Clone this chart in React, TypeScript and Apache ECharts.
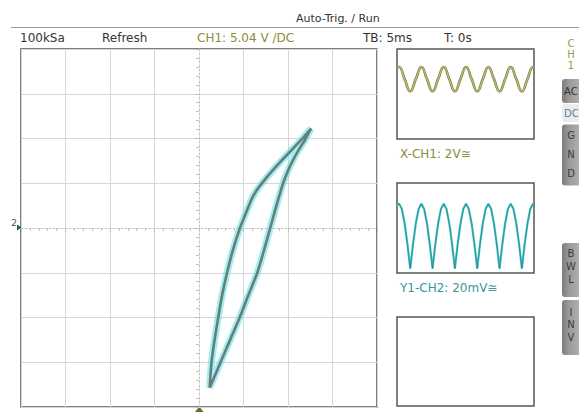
import React, { useEffect, useRef } from "react";
import * as echarts from "echarts";

// ---------- data ----------
// XY (hysteresis) loop, in screen divisions (8 x 8 grid, centre = 0,0)
const loopX = [0.24, 0.28, 0.35, 0.43, 0.52, 0.63, 0.76, 0.92, 1.04, 1.20, 1.30, 1.43, 1.65, 1.86, 2.07, 2.28, 2.41, 2.52, 2.45, 2.37, 2.23, 2.11, 2.00, 1.89, 1.74, 1.60, 1.46, 1.31, 1.11, 0.91, 0.70, 0.48, 0.24];
const loopY = [-3.57, -3.01, -2.50, -2.01, -1.50, -1.00, -0.50, 0.00, 0.30, 0.68, 0.85, 1.02, 1.28, 1.51, 1.73, 1.95, 2.10, 2.22, 2.10, 1.95, 1.73, 1.51, 1.28, 1.00, 0.50, 0.00, -0.50, -1.00, -1.50, -2.01, -2.50, -3.01, -3.57];

// X-CH1 preview trace (percent of panel width / height)
const chXt = [0, 1.5, 5.6, 9.65, 13.7, 17.8, 21.9, 25.95, 30.0, 34.1, 38.2, 42.25, 46.3, 50.4, 54.5, 58.55, 62.6, 66.7, 70.8, 74.85, 78.9, 83.0, 87.1, 91.15, 95.2, 99.3, 100];
const chXv = [79.5, 80, 66.5, 53, 66.5, 80, 66.5, 53, 66.5, 80, 66.5, 53, 66.5, 80, 66.5, 53, 66.5, 80, 66.5, 53, 66.5, 80, 66.5, 53, 66.5, 80, 79.8];

// Y1-CH2 preview trace
const chYt = [0, 1.5, 3.54, 5.58, 7.61, 9.65, 11.69, 13.73, 15.76, 17.8, 19.84, 21.88, 23.91, 25.95, 27.99, 30.03, 32.06, 34.1, 36.14, 38.18, 40.21, 42.25, 44.29, 46.33, 48.36, 50.4, 52.44, 54.48, 56.51, 58.55, 60.59, 62.63, 64.66, 66.7, 68.74, 70.78, 72.81, 74.85, 76.89, 78.93, 80.96, 83.0, 85.04, 87.08, 89.11, 91.15, 93.19, 95.23, 97.26, 99.3, 100];
const chYv = [76, 77, 71, 55, 32, 5, 32, 55, 71, 77, 71, 55, 32, 5, 32, 55, 71, 77, 71, 55, 32, 5, 32, 55, 71, 77, 71, 55, 32, 5, 32, 55, 71, 77, 71, 55, 32, 5, 32, 55, 71, 77, 71, 55, 32, 5, 32, 55, 71, 77, 76.5];

// texts
const headerText = "Auto-Trig. / Run";
const statusTexts = ["100kSa", "Refresh", "CH1: 5.04 V /DC", "TB: 5ms", "T: 0s"];
const xLabel = "X-CH1: 2V≅";
const yLabel = "Y1-CH2: 20mV≅";

const FONT = "'DejaVu Sans', sans-serif";

export default function App() {
  const ref = useRef<HTMLDivElement>(null);

  useEffect(() => {
    if (!ref.current) return;
    const chart = echarts.init(ref.current, undefined, { renderer: "svg" });

    const grid = "#d6d6d6";
    const splitColors = [grid, grid, grid, grid, "rgba(0,0,0,0)", grid, grid, grid, grid];
    const centre = "#c2c2c2";

    const mainAxis = (gridIndex: number) => ({
      gridIndex,
      type: "value",
      min: -4,
      max: 4,
      interval: 1,
      axisLabel: { show: false },
      axisLine: { show: true, onZero: true, lineStyle: { color: centre, width: 1, type: [2, 2] } },
      axisTick: { show: true, length: 4, lineStyle: { color: centre } },
      minorTick: { show: true, splitNumber: 5, length: 3, lineStyle: { color: centre } },
      splitLine: { show: true, lineStyle: { color: splitColors, width: 1 } },
    });

    const panelAxis = (gridIndex: number) => ({
      gridIndex,
      type: "value",
      min: 0,
      max: 100,
      show: false,
    });

    const panelGrid = (top: number, height: number) => ({
      left: 397,
      top,
      width: 137,
      height,
      show: true,
      borderColor: "#555",
      borderWidth: 1.5,
      backgroundColor: "#fff",
    });

    const tabFill = new echarts.graphic.LinearGradient(0, 0, 1, 0, [
      { offset: 0, color: "#7c7c7c" },
      { offset: 0.35, color: "#9a9a9a" },
      { offset: 1, color: "#b4b4b4" },
    ]);

    const letter = (t: string, y: number, fill = "#3c3c3c") => ({
      type: "text",
      style: { text: t, x: 571, y, fill, font: `10px ${FONT}`, textAlign: "center", textVerticalAlign: "middle" },
    });

    const statusX = [20, 102, 197, 363, 444];
    const loopData = loopX.map((x, i) => [x, loopY[i]]);

    const option: any = {
      animation: false,
      backgroundColor: "#fff",
      grid: [
        { left: 21, top: 49, width: 356, height: 358, show: true, borderColor: "#555", borderWidth: 1.5, backgroundColor: "#fff" },
        panelGrid(49, 90),
        panelGrid(183, 90),
        panelGrid(317, 89),
      ],
      xAxis: [mainAxis(0), panelAxis(1), panelAxis(2), panelAxis(3)],
      yAxis: [mainAxis(0), panelAxis(1), panelAxis(2), panelAxis(3)],
      series: [
        {
          type: "line",
          xAxisIndex: 0,
          yAxisIndex: 0,
          data: loopData,
          showSymbol: false,
          symbol: "none",
          smooth: 0.2,
          lineStyle: { color: "#5fe2e6", width: 7, opacity: 0.6 },
          z: 3,
        },
        {
          type: "line",
          xAxisIndex: 0,
          yAxisIndex: 0,
          data: loopData,
          showSymbol: false,
          symbol: "none",
          smooth: 0.2,
          lineStyle: { color: "#6b7b7c", width: 2.6 },
          z: 4,
        },
        {
          type: "line",
          xAxisIndex: 1,
          yAxisIndex: 1,
          data: chXt.map((t, i) => [t, chXv[i]]),
          showSymbol: false,
          symbol: "none",
          smooth: true,
          lineStyle: { color: "#7f7f46", width: 2.6 },
          z: 3,
        },
        {
          type: "line",
          xAxisIndex: 1,
          yAxisIndex: 1,
          data: chXt.map((t, i) => [t, chXv[i]]),
          showSymbol: false,
          symbol: "none",
          smooth: true,
          lineStyle: { color: "#c4c47c", width: 1.1 },
          z: 4,
        },
        {
          type: "line",
          xAxisIndex: 2,
          yAxisIndex: 2,
          data: chYt.map((t, i) => [t, chYv[i]]),
          showSymbol: false,
          symbol: "none",
          lineStyle: { color: "#3fc9cc", width: 2.2 },
          z: 3,
        },
        {
          type: "line",
          xAxisIndex: 2,
          yAxisIndex: 2,
          data: chYt.map((t, i) => [t, chYv[i]]),
          showSymbol: false,
          symbol: "none",
          lineStyle: { color: "#2d6466", width: 0.8, opacity: 0.7 },
          z: 4,
        },
      ],
      graphic: [
        {
          type: "line",
          shape: { x1: 11, y1: 27.5, x2: 579, y2: 27.5 },
          style: { stroke: "#9a9a9a", lineWidth: 1 },
        },
        {
          type: "text",
          style: { text: headerText, x: 296, y: 18, fill: "#333", font: `11px ${FONT}`, textAlign: "left", textVerticalAlign: "middle" },
        },
        ...statusTexts.map((t, i) => ({
          type: "text",
          style: {
            text: t,
            x: statusX[i],
            y: 38,
            fill: i === 2 ? "#8c8c3c" : "#333",
            font: `12px ${FONT}`,
            textAlign: "left",
            textVerticalAlign: "middle",
          },
        })),
        {
          type: "text",
          style: { text: xLabel, x: 400, y: 154, fill: "#8c8c3c", font: `12px ${FONT}`, textAlign: "left", textVerticalAlign: "middle" },
        },
        {
          type: "text",
          style: { text: yLabel, x: 400, y: 288, fill: "#3a9698", font: `12px ${FONT}`, textAlign: "left", textVerticalAlign: "middle" },
        },
        // ground marker "2" and trigger marker
        {
          type: "text",
          style: { text: "2", x: 14, y: 223, fill: "#2c5a5a", font: `9px ${FONT}`, textAlign: "center", textVerticalAlign: "middle" },
        },
        {
          type: "polygon",
          shape: { points: [[17, 224.5], [21.5, 227.5], [17, 230.5]] },
          style: { fill: "#2c5a5a" },
        },
        {
          type: "polygon",
          shape: { points: [[195, 412], [199.3, 406.5], [203.5, 412]] },
          style: { fill: "#6e6a30" },
        },
        // right side tabs
        letter("C", 43, "#9a9a48"),
        letter("H", 54, "#9a9a48"),
        letter("1", 65, "#9a9a48"),
        { type: "rect", shape: { x: 562, y: 79, width: 20, height: 24, r: [3, 0, 0, 3] }, style: { fill: tabFill } },
        {
          type: "text",
          style: { text: "AC", x: 564, y: 91.5, fill: "#333", font: `10px ${FONT}`, textAlign: "left", textVerticalAlign: "middle" },
        },
        { type: "rect", shape: { x: 562, y: 104, width: 20, height: 18, r: [3, 0, 0, 3] }, style: { fill: "#ececec" } },
        {
          type: "text",
          style: { text: "DC", x: 564, y: 113.5, fill: "#5f7e9c", font: `10px ${FONT}`, textAlign: "left", textVerticalAlign: "middle" },
        },
        { type: "rect", shape: { x: 562, y: 124.5, width: 20, height: 61, r: [3, 0, 0, 3] }, style: { fill: tabFill } },
        letter("G", 135),
        letter("N", 154),
        letter("D", 173),
        { type: "rect", shape: { x: 562, y: 243, width: 20, height: 54, r: [3, 0, 0, 3] }, style: { fill: tabFill } },
        letter("B", 253),
        letter("W", 266),
        letter("L", 279),
        { type: "rect", shape: { x: 562, y: 300, width: 20, height: 55, r: [3, 0, 0, 3] }, style: { fill: tabFill } },
        letter("I", 312),
        letter("N", 324),
        letter("V", 337),
      ],
    };

    chart.setOption(option);
    return () => chart.dispose();
  }, []);

  return (
    <div
      ref={ref}
      style={{ position: "absolute", left: 0, top: 0, width: 579, height: 412, background: "#fff" }}
    />
  );
}
